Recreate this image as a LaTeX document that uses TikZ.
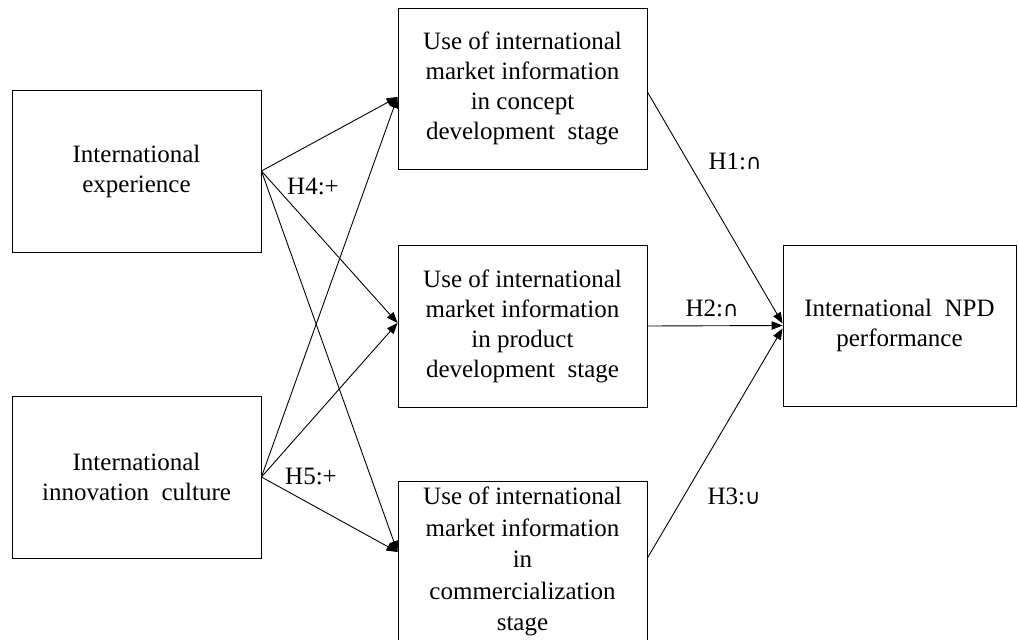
\documentclass[tikz,border=0pt]{standalone}
\usepackage{fontspec}
\setmainfont{Liberation Serif}
\newfontfamily\symf{DejaVu Sans}
\usetikzlibrary{arrows.meta}
\begin{document}
\begin{tikzpicture}[x=1pt,y=-1pt,
  box/.style={draw, line width=0.9pt, align=center, inner sep=0pt, minimum width=249pt, minimum height=162pt, font=\fontsize{25}{30}\selectfont},
  arr/.style={line width=0.9pt, -{Triangle[length=11pt,width=8.5pt]}},
  lbl/.style={font=\fontsize{25}{30}\selectfont, inner sep=0pt}]
\clip (0,0) rectangle (1018,640);
\fill[white] (0,0) rectangle (1018,640);
% left boxes
\node[box] (L1) at (136.5,171) {International\\experience};
\node[box] (L2) at (136.5,477) {International\\innovation\ \ culture};
% middle boxes
\node[box, minimum height=161pt] (m1) at (522.5,88.5) {Use of international\\market information\\in concept\\development\ \ stage};
\node[box] (m2) at (522.5,326) {Use of international\\market information\\in product\\development\ \ stage};
\node[box, minimum height=180pt] (m3) at (522.5,571) {};
\node[lbl, align=center, anchor=north, font=\fontsize{25}{31.5}\selectfont] (m3t) at (522.5,487) {Use of international\\market information\\in\\commercialization\\stage};
% right box
\node[box, minimum width=233pt, minimum height=161pt] (R) at (899.5,325.5) {International\ \ NPD\\performance};
% arrows from left
\draw[arr] (L1.east) -- ([yshift=-8.5pt]m1.west);
\draw[arr] (L1.east) -- ([yshift=3pt]m2.west);
\draw[arr] (L1.east) -- ([yshift=19pt]m3.west);
\draw[arr] (L2.east) -- ([yshift=-8.5pt]m1.west);
\draw[arr] (L2.east) -- ([yshift=3pt]m2.west);
\draw[arr] (L2.east) -- ([yshift=19pt]m3.west);
% arrows to right
\draw[arr] ([yshift=-3.5pt]m1.east) -- ([yshift=2pt]R.west);
\draw[arr] (m2.east) -- (R.west);
\draw[arr] ([yshift=13pt]m3.east) -- ([yshift=-3pt]R.west);
% labels
\node[lbl] (h4) at (313,186) {H4:+};
\node[lbl] (h5) at (311,476) {H5:+};
\node[lbl] (h1) at (735,161) {H1:{\symf\fontsize{21}{21}\selectfont ∩}};
\node[lbl] (h2) at (712,308) {H2:{\symf\fontsize{21}{21}\selectfont ∩}};
\node[lbl] (h3) at (734,496) {H3:{\symf\fontsize{21}{21}\selectfont ∪}};
\end{tikzpicture}
\end{document}
